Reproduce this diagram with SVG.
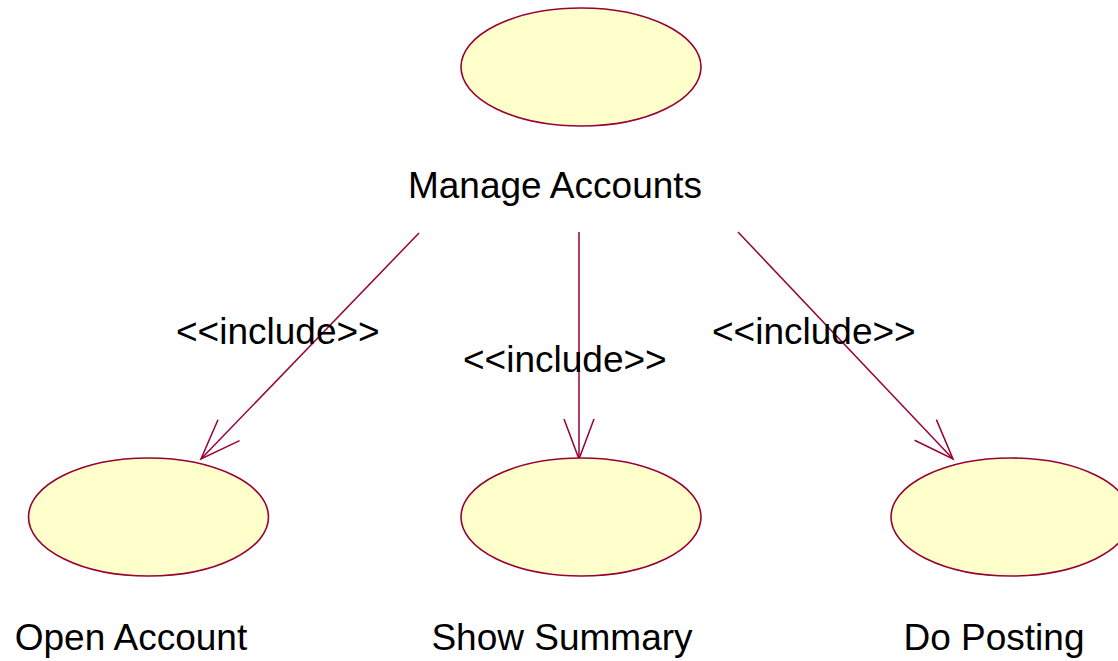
<svg xmlns="http://www.w3.org/2000/svg" width="1118" height="661" viewBox="0 0 1118 661">
  <style>
    .uc { fill: #FFFFCC; stroke: #990033; stroke-width: 1.6; }
    .lbl { font-family: "Liberation Sans", Arial, sans-serif; font-size: 37px; fill: #000; }
    .dep { stroke: #990033; stroke-width: 1.5; fill: none; }
  </style>
  <defs>
    <marker id="open-arrow" markerUnits="userSpaceOnUse" markerWidth="50" markerHeight="40" viewBox="-45 -20 50 40" refX="0" refY="0" orient="auto">
      <path d="M-40,-15 L0,0 L-40,15" fill="none" stroke="#990033" stroke-width="1.5"/>
    </marker>
  </defs>
  <rect width="1118" height="661" fill="#FFFFFF"/>

  <!-- include dependencies -->
  <g id="connectors">
    <line class="dep" x1="419" y1="233" x2="201" y2="459" marker-end="url(#open-arrow)"/>
    <line class="dep" x1="579" y1="232" x2="579" y2="459" marker-end="url(#open-arrow)"/>
    <line class="dep" x1="738" y1="232" x2="953" y2="459" marker-end="url(#open-arrow)"/>
    <text class="lbl" x="176" y="344">&lt;&lt;include&gt;&gt;</text>
    <text class="lbl" x="463" y="372">&lt;&lt;include&gt;&gt;</text>
    <text class="lbl" x="712" y="344">&lt;&lt;include&gt;&gt;</text>
  </g>

  <g id="manage-accounts">
    <ellipse class="uc" cx="581" cy="67" rx="120" ry="59"/>
    <text class="lbl" x="555" y="198" text-anchor="middle">Manage Accounts</text>
  </g>

  <g id="open-account">
    <ellipse class="uc" cx="148.5" cy="517" rx="120" ry="59"/>
    <text class="lbl" x="131" y="650" text-anchor="middle">Open Account</text>
  </g>

  <g id="show-summary">
    <ellipse class="uc" cx="581" cy="517" rx="120" ry="59"/>
    <text class="lbl" x="562" y="650" text-anchor="middle">Show Summary</text>
  </g>

  <g id="do-posting">
    <ellipse class="uc" cx="1011" cy="517" rx="120" ry="59"/>
    <text class="lbl" x="994" y="650" text-anchor="middle">Do Posting</text>
  </g>
</svg>
